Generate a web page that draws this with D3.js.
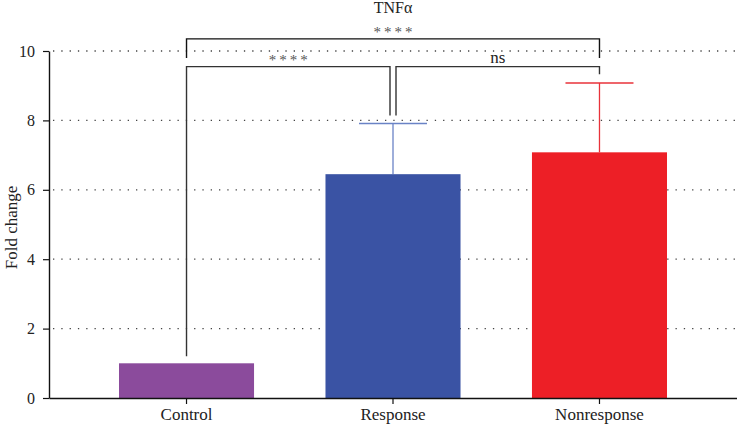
<!DOCTYPE html>
<html>
<head>
<meta charset="utf-8">
<script src="https://cdn.jsdelivr.net/npm/d3@7"></script>
<style>
  body { margin: 0; background: #fff; }
  svg text { font-family: "Liberation Serif", "DejaVu Serif", serif; }
</style>
</head>
<body>
<div class="chart"></div>
<script>
// Data
const groups = ["Control", "Response", "Nonresponse"];
const means = [1.0, 6.45, 7.08];
const errTops = [1.0, 7.91, 9.08];
const colors = ["#8b4b9c", "#3a53a4", "#ed1f26"];
const errColors = ["#8b4b9c", "#6a83c6", "#e8323a"];
const yTicks = [0, 2, 4, 6, 8, 10];

// significance brackets
const brackets = [
    { a: "Control", b: "Nonresponse", y: 10.35, label: "****", legA: 9.8, legB: 9.8 },
    { a: "Control", b: "Response", y: 9.55, label: "****", legA: 1.2, legB: 8.14, offB: -3 },
    { a: "Response", b: "Nonresponse", y: 9.55, label: "ns", legA: 8.14, legB: 9.33, offA: 3 }
];

const width = 737, height = 428;
const margin = { top: 51, right: 0, bottom: 30, left: 49 };

const svg = d3.select(".chart")
    .append("svg")
    .attr("width", width)
    .attr("height", height);

const x = d3.scaleBand()
    .domain(groups)
    .range([margin.left, width - margin.right])
    .paddingInner(0.346)
    .paddingOuter(0.339);

const y = d3.scaleLinear()
    .domain([0, 10])
    .range([398, 51]);

// dotted gridlines
svg.selectAll(".grid")
    .data(yTicks.filter(d => d > 0))
    .enter()
    .append("line")
    .attr("class", "grid")
    .attr("x1", margin.left + 4)
    .attr("x2", width)
    .attr("y1", d => y(d))
    .attr("y2", d => y(d))
    .attr("stroke", "#444")
    .attr("stroke-width", 1.3)
    .attr("stroke-dasharray", "1.3,7");

// error bars
const cx = d => x(d) + x.bandwidth() / 2;
groups.forEach((g, i) => {
    if (errTops[i] <= means[i]) return;
    svg.append("line")
        .attr("x1", cx(g)).attr("x2", cx(g))
        .attr("y1", y(means[i])).attr("y2", y(errTops[i]))
        .attr("stroke", errColors[i]).attr("stroke-width", 1.3);
    svg.append("line")
        .attr("x1", cx(g) - 34).attr("x2", cx(g) + 34)
        .attr("y1", y(errTops[i])).attr("y2", y(errTops[i]))
        .attr("stroke", errColors[i]).attr("stroke-width", 1.5);
});

// bars
svg.selectAll(".bar")
    .data(groups)
    .enter()
    .append("rect")
    .attr("class", "bar")
    .attr("x", d => x(d))
    .attr("width", x.bandwidth())
    .attr("y", (d, i) => y(means[i]))
    .attr("height", (d, i) => y(0) - y(means[i]))
    .attr("fill", (d, i) => colors[i]);

// axes
const yAxis = d3.axisLeft(y).tickValues(yTicks).tickSize(6).tickSizeOuter(0);
const gy = svg.append("g")
    .attr("transform", `translate(${margin.left},0)`)
    .call(yAxis);
gy.select(".domain").attr("stroke", "#111").attr("stroke-width", 1.4);
gy.selectAll(".tick line").attr("stroke", "#111").attr("stroke-width", 1.2);
gy.selectAll(".tick text").attr("font-size", 16).attr("fill", "#222").attr("x", -14);

const xAxis = d3.axisBottom(x).tickSize(6).tickSizeOuter(0);
const gx = svg.append("g")
    .attr("transform", `translate(0,${y(0)})`)
    .call(xAxis);
gx.select(".domain").attr("stroke", "#111").attr("stroke-width", 1.4);
gx.selectAll(".tick line").attr("stroke", "#111").attr("stroke-width", 1.2);
gx.selectAll(".tick text").attr("font-size", 17).attr("fill", "#222").attr("y", 10);

// axis title
svg.append("text")
    .attr("transform", `translate(17,${(y(0) + y(10)) / 2 + 3}) rotate(-90)`)
    .attr("text-anchor", "middle")
    .attr("font-size", 17)
    .attr("fill", "#222")
    .text("Fold change");

// chart title
svg.append("text")
    .attr("x", cx("Response"))
    .attr("y", 13)
    .attr("text-anchor", "middle")
    .attr("font-size", 16)
    .attr("fill", "#222")
    .text("TNFα");

// brackets
brackets.forEach(b => {
    const xa = cx(b.a) + (b.offA || 0);
    const xb = cx(b.b) + (b.offB || 0);
    svg.append("path")
        .attr("d", `M${xa},${y(b.legA)}V${y(b.y)}H${xb}V${y(b.legB)}`)
        .attr("fill", "none")
        .attr("stroke", b.label === "ns" || b.a === "Control" && b.b === "Response" ? "#333" : "#111")
        .attr("stroke-width", 1.4);
    const isNs = b.label === "ns";
    svg.append("text")
        .attr("x", (xa + xb) / 2 + (isNs ? 0 : 1.5))
        .attr("y", y(b.y) - (isNs ? 4 : 2))
        .attr("text-anchor", "middle")
        .attr("font-size", isNs ? 17 : 15)
        .attr("fill", isNs ? "#222" : "#555")
        .attr("letter-spacing", isNs ? 0 : 3)
        .text(b.label);
});
</script>
</body>
</html>
